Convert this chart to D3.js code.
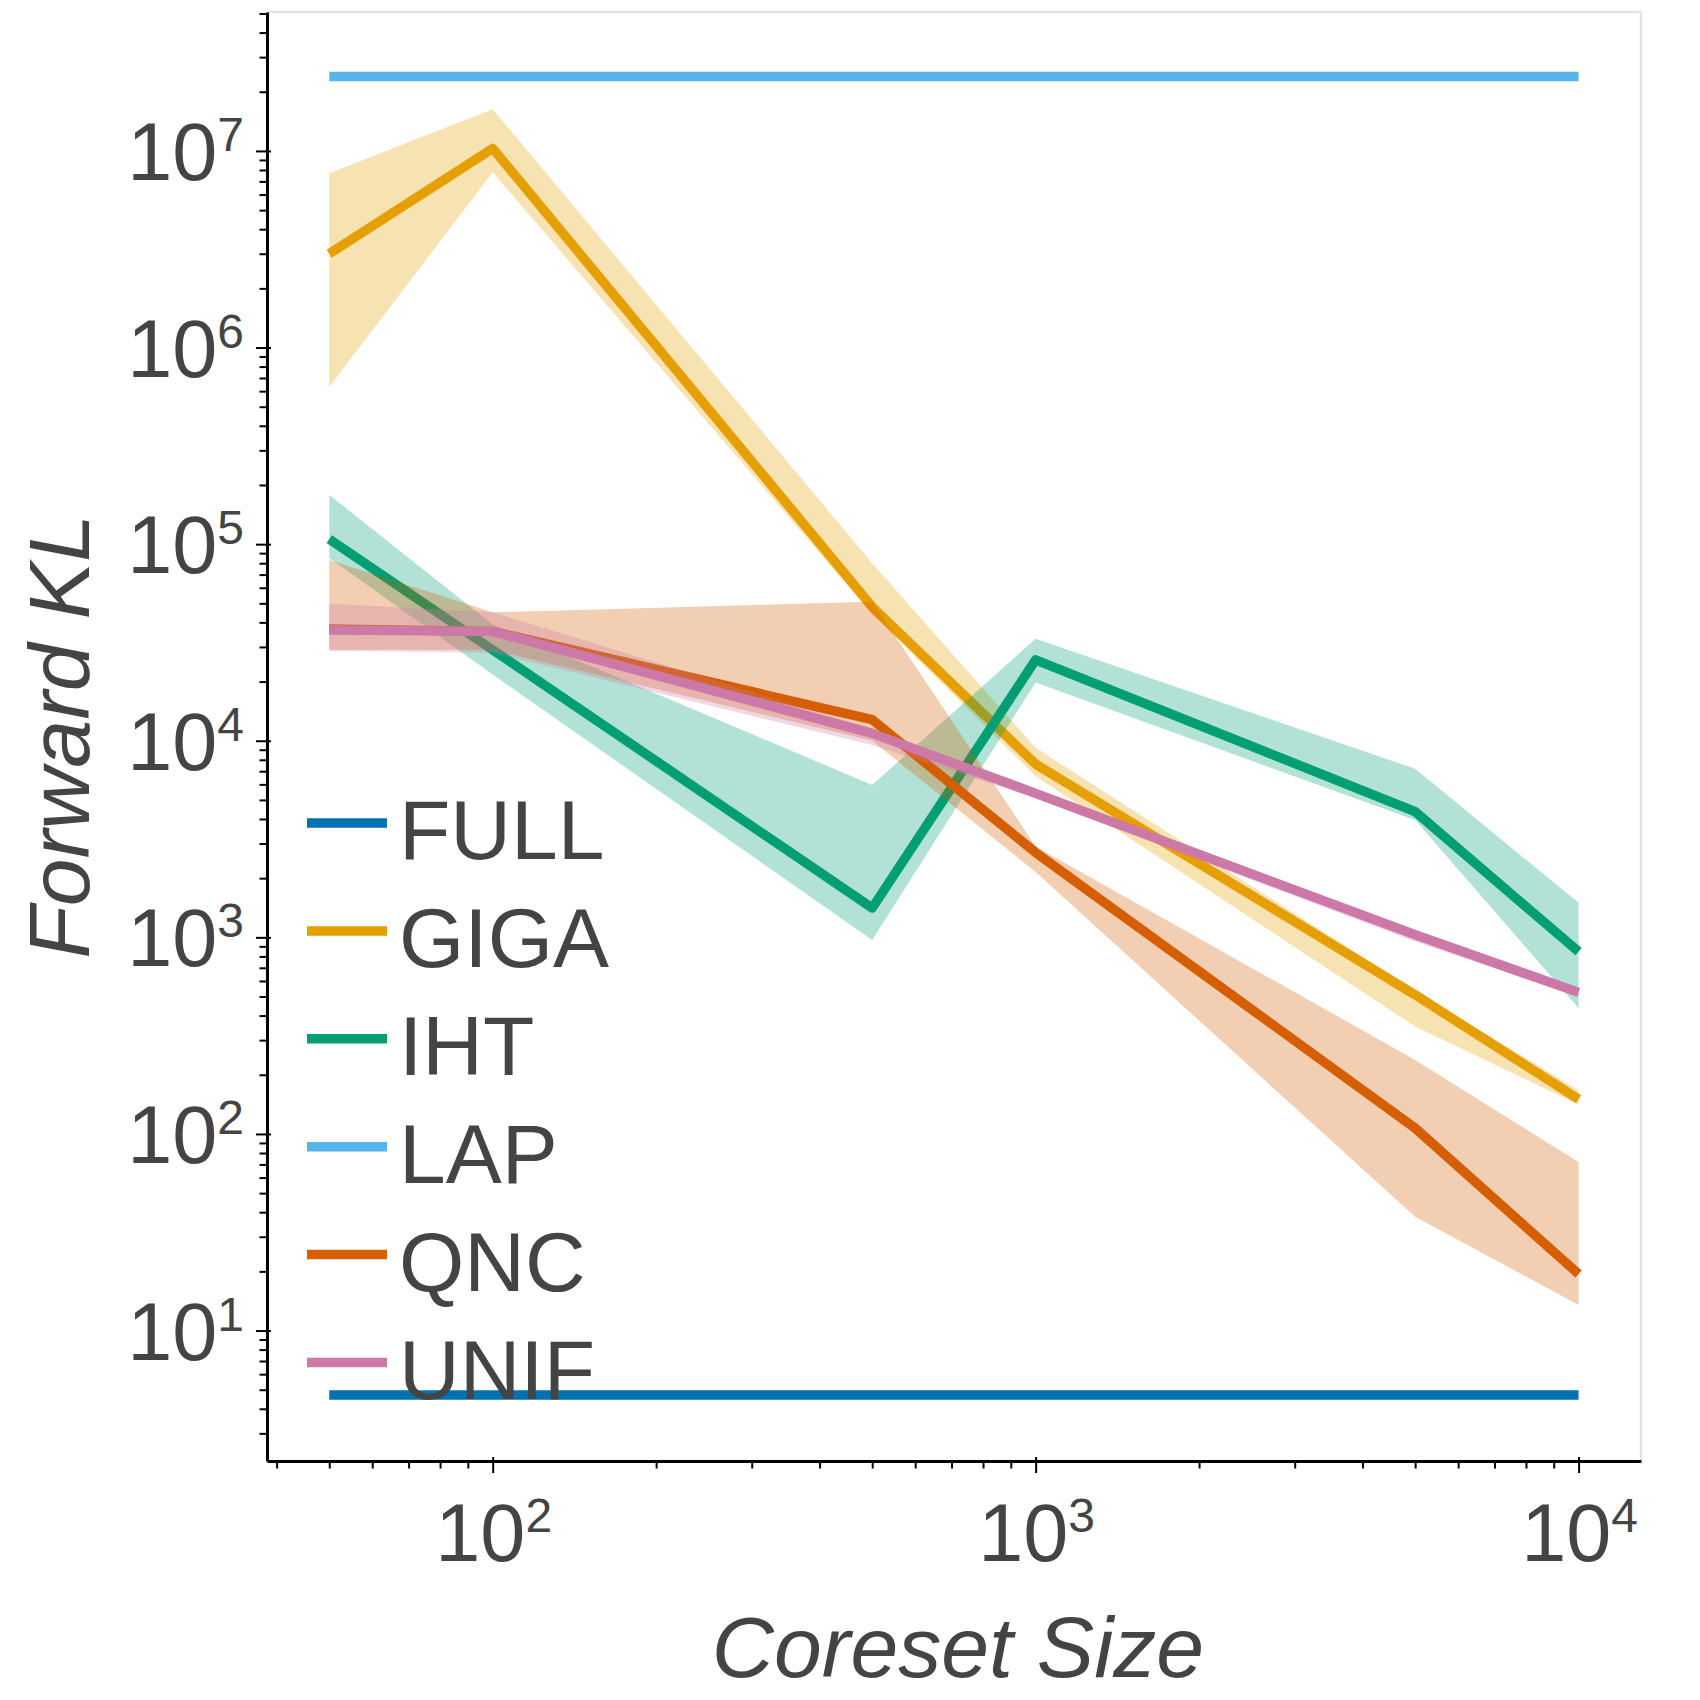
<!DOCTYPE html>
<html>
<head>
<meta charset="utf-8">
<script src="https://cdn.jsdelivr.net/npm/d3@7"></script>
<style>
  body { margin: 0; background: #fff; }
  text { font-family: "Liberation Sans", Arial, sans-serif; fill: #444; }
</style>
</head>
<body>
<div class="chart"></div>
<script>
var sizes = [50, 100, 500, 1000, 5000, 10000];
var methods = ["FULL", "GIGA", "IHT", "LAP", "QNC", "UNIF"];
var colors = ["#0072B2", "#E69F00", "#009E73", "#56B4E9", "#D55E00", "#CC79A7"];

var fullMean = [4.7, 4.7, 4.7, 4.7, 4.7, 4.7];
var fullLo   = [4.7, 4.7, 4.7, 4.7, 4.7, 4.7];
var fullHi   = [4.7, 4.7, 4.7, 4.7, 4.7, 4.7];

var gigaMean = [3.0e6, 1.03e7, 4.8e4, 7.6e3, 510, 150];
var gigaLo   = [6.3e5, 7.8e6, 4.4e4, 6.6e3, 352, 141];
var gigaHi   = [7.7e6, 1.63e7, 8.0e4, 9.2e3, 535, 167];

var ihtMean = [1.06e5, 2.9e4, 1.41e3, 2.58e4, 4.36e3, 845];
var ihtLo   = [8.5e4, 2.17e4, 970, 1.98e4, 3.95e3, 437];
var ihtHi   = [1.78e5, 3.9e4, 5.96e3, 3.3e4, 7.2e3, 1.5e3];

var lapMean = [2.39e7, 2.39e7, 2.39e7, 2.39e7, 2.39e7, 2.39e7];
var lapLo   = [2.39e7, 2.39e7, 2.39e7, 2.39e7, 2.39e7, 2.39e7];
var lapHi   = [2.39e7, 2.39e7, 2.39e7, 2.39e7, 2.39e7, 2.39e7];

var qncMean = [3.7e4, 3.6e4, 1.28e4, 2.7e3, 107, 19.4];
var qncLo   = [2.9e4, 2.9e4, 1.0e4, 2.15e3, 37.9, 13.5];
var qncHi   = [8.3e4, 4.5e4, 5.1e4, 2.9e3, 238, 72];

var unifMean = [3.66e4, 3.6e4, 1.09e4, 5.4e3, 1.03e3, 525];
var unifLo   = [2.87e4, 2.8e4, 9.5e3, 5.1e3, 950, 500];
var unifHi   = [4.97e4, 4.5e4, 1.15e4, 5.6e3, 1.06e3, 550];

var yMajor = [1, 2, 3, 4, 5, 6, 7];
var xMajor = [2, 3, 4];

function init() {
    var w = 1700, h = 1700;
    var left = 267, right = 1641, top = 12, bottom = 1461;

    var series = [
        [fullMean, fullLo, fullHi],
        [gigaMean, gigaLo, gigaHi],
        [ihtMean, ihtLo, ihtHi],
        [lapMean, lapLo, lapHi],
        [qncMean, qncLo, qncHi],
        [unifMean, unifLo, unifHi]
    ];

    var x = d3.scaleLog().domain([38.4, 13030]).range([left, right]);
    var y = d3.scaleLog().domain([2.17, 5.09e7]).range([bottom, top]);

    var svg = d3.select(".chart")
        .append("svg")
        .attr("width", w)
        .attr("height", h)
        .style("background", "#fff");

    // light frame on top and right
    svg.append("line")
        .attr("x1", left).attr("x2", right).attr("y1", top).attr("y2", top)
        .attr("stroke", "#e3e3e3").attr("stroke-width", 2.5);
    svg.append("line")
        .attr("x1", right).attr("x2", right).attr("y1", top).attr("y2", bottom)
        .attr("stroke", "#e3e3e3").attr("stroke-width", 2.5);

    var area = d3.area()
        .x(function(d) { return x(d.x); })
        .y0(function(d) { return y(d.lo); })
        .y1(function(d) { return y(d.hi); });
    var line = d3.line()
        .x(function(d) { return x(d.x); })
        .y(function(d) { return y(d.m); });

    series.forEach(function(s, i) {
        var pts = sizes.map(function(v, j) {
            return {x: v, m: s[0][j], lo: s[1][j], hi: s[2][j]};
        });
        svg.append("path")
            .attr("d", area(pts))
            .attr("fill", colors[i])
            .attr("fill-opacity", 0.3);
        svg.append("path")
            .attr("d", line(pts))
            .attr("fill", "none")
            .attr("stroke", colors[i])
            .attr("stroke-width", 9.5)
            .attr("stroke-linejoin", "round")
            .attr("stroke-linecap", "butt");
    });

    // ticks
    var yTicks = [];
    for (var e = 0; e <= 7; e++) {
        for (var k = 1; k < 10; k++) {
            var v = k * Math.pow(10, e);
            if (v >= 2.17 && v <= 5.09e7) yTicks.push(v);
        }
    }
    var xTicks = [];
    for (var e2 = 1; e2 <= 4; e2++) {
        for (var k2 = 1; k2 < 10; k2++) {
            var v2 = k2 * Math.pow(10, e2);
            if (v2 >= 38.4 && v2 <= 13030) xTicks.push(v2);
        }
    }
    function isMajor(v) {
        var l = Math.log10(v);
        return Math.abs(l - Math.round(l)) < 1e-9;
    }

    var yAxis = svg.append("g")
        .attr("transform", "translate(" + left + ",0)")
        .call(d3.axisLeft(y).tickValues(yTicks).tickFormat("").tickSizeOuter(0));
    var xAxis = svg.append("g")
        .attr("transform", "translate(0," + bottom + ")")
        .call(d3.axisBottom(x).tickValues(xTicks).tickFormat("").tickSizeOuter(0));

    [yAxis, xAxis].forEach(function(g) {
        g.select(".domain").attr("stroke", "#000").attr("stroke-width", 3);
        g.selectAll(".tick line").attr("stroke", "#000").attr("stroke-width", 2);
    });
    yAxis.selectAll(".tick line")
        .attr("x1", function(d) { return isMajor(d) ? 4 : 0; })
        .attr("x2", function(d) { return isMajor(d) ? -11 : -7.5; });
    xAxis.selectAll(".tick line")
        .attr("y1", function(d) { return isMajor(d) ? -4 : 0; })
        .attr("y2", function(d) { return isMajor(d) ? 12 : 7.5; });

    // tick labels with superscripts
    yMajor.forEach(function(p) {
        var t = svg.append("text")
            .attr("x", 244)
            .attr("y", y(Math.pow(10, p)) + 29)
            .attr("text-anchor", "end")
            .attr("font-size", 81);
        t.append("tspan").text("10");
        t.append("tspan").attr("dy", -29).attr("font-size", 48).text(p);
    });
    xMajor.forEach(function(p) {
        var t = svg.append("text")
            .attr("x", x(Math.pow(10, p)) + 1)
            .attr("y", 1561)
            .attr("text-anchor", "middle")
            .attr("font-size", 81);
        t.append("tspan").text("10");
        t.append("tspan").attr("dy", -29).attr("font-size", 48).text(p);
    });

    // axis titles
    svg.append("text")
        .attr("x", (left + right) / 2 + 4)
        .attr("y", 1677)
        .attr("text-anchor", "middle")
        .attr("font-size", 86)
        .attr("font-style", "italic")
        .text("Coreset Size");
    svg.append("text")
        .attr("transform", "translate(89," + (top + bottom) / 2 + ") rotate(-90)")
        .attr("text-anchor", "middle")
        .attr("font-size", 86)
        .attr("font-style", "italic")
        .text("Forward KL");

    // legend
    var legend = svg.selectAll("g.legend")
        .data(methods)
        .enter()
        .append("g")
        .attr("class", "legend")
        .attr("transform", function(d, i) {
            return "translate(307," + (823 + i * 107.9) + ")";
        });
    legend.append("line")
        .attr("x1", 0).attr("x2", 80)
        .attr("stroke", function(d, i) { return colors[i]; })
        .attr("stroke-width", 9.5);
    legend.append("text")
        .attr("x", 92)
        .attr("y", 36)
        .attr("font-size", 84)
        .text(function(d) { return d; });
}

init()
</script>
</body>
</html>
